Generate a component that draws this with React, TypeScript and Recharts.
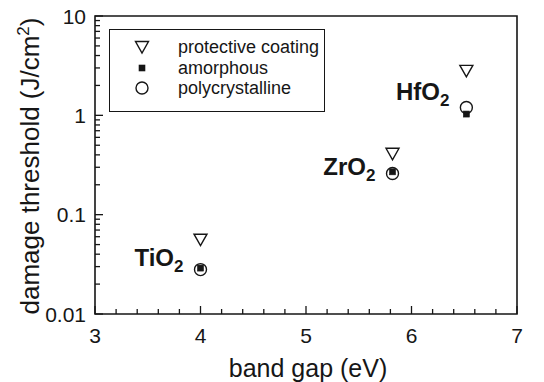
import React from "react";
import { Label, Legend, ReferenceArea, Scatter, ScatterChart, XAxis, YAxis } from "recharts";

const FONT = '"Liberation Sans", Arial, Helvetica, sans-serif';
const INK = "#161616";

const MATERIALS = ["TiO", "ZrO", "HfO"];
const BAND_GAP = [4.0, 5.82, 6.52];
const PROTECTIVE_COATING = [0.056, 0.41, 2.8];
const AMORPHOUS = [0.029, 0.27, 1.03];
const POLYCRYSTALLINE = [0.028, 0.26, 1.2];

const SERIES_NAMES = ["protective coating", "amorphous", "polycrystalline"];

const X_TICKS = [
  3, 3.2, 3.4, 3.6, 3.8, 4, 4.2, 4.4, 4.6, 4.8, 5, 5.2, 5.4, 5.6, 5.8, 6, 6.2, 6.4, 6.6, 6.8, 7,
];
const X_MAJOR = [3, 4, 5, 6, 7];
const Y_TICKS = [
  0.01, 0.02, 0.03, 0.04, 0.05, 0.06, 0.07, 0.08, 0.09,
  0.1, 0.2, 0.3, 0.4, 0.5, 0.6, 0.7, 0.8, 0.9,
  1, 2, 3, 4, 5, 6, 7, 8, 9, 10,
];
const Y_MAJOR = [0.01, 0.1, 1, 10];

const toPoints = (vals: number[]) =>
  BAND_GAP.map((x, i) => ({ x, y: vals[i], name: MATERIALS[i] }));

// material labels sit between the triangle and the circle
const labelPoints = BAND_GAP.map((x, i) => ({
  x,
  y: Math.sqrt(PROTECTIVE_COATING[i] * POLYCRYSTALLINE[i]),
  name: MATERIALS[i],
}));

function Tri({ cx, cy }: { cx: number; cy: number }) {
  return (
    <path
      d={`M${cx - 6.5},${cy - 5.5} L${cx + 6.5},${cy - 5.5} L${cx},${cy + 6} Z`}
      fill="none"
      stroke={INK}
      strokeWidth={1.4}
    />
  );
}

function Sq({ cx, cy }: { cx: number; cy: number }) {
  return <rect x={cx - 3} y={cy - 3} width={6} height={6} fill={INK} stroke={INK} strokeWidth={0.6} />;
}

function Circ({ cx, cy }: { cx: number; cy: number }) {
  return <circle cx={cx} cy={cy} r={6} fill="none" stroke={INK} strokeWidth={1.4} />;
}

const ICONS: Record<string, any> = {
  "protective coating": Tri,
  amorphous: Sq,
  polycrystalline: Circ,
};

function MaterialLabel({ cx, cy, payload }: any) {
  return (
    <text
      x={cx - 17}
      y={cy + 11}
      textAnchor="end"
      fontFamily={FONT}
      fontWeight="bold"
      fontSize={24}
      fill={INK}
    >
      {payload.name}
      <tspan dy={6} fontSize={17}>
        2
      </tspan>
    </text>
  );
}

function XTick({ x, y, payload }: any) {
  const major = X_MAJOR.includes(payload.value);
  return (
    <g>
      <path d={`M${x},${y} V${y - (major ? 8 : 5)}`} stroke={INK} strokeWidth={1.3} fill="none" />
      {major && (
        <text x={x} y={y + 29} textAnchor="middle" fontSize={21} fontFamily={FONT} fill={INK}>
          {payload.value}
        </text>
      )}
    </g>
  );
}

function YTick({ x, y, payload }: any) {
  const major = Y_MAJOR.includes(payload.value);
  return (
    <g>
      <path d={`M${x},${y} H${x + (major ? 8 : 5)}`} stroke={INK} strokeWidth={1.3} fill="none" />
      {major && (
        <text x={x - 9} y={y + 7.5} textAnchor="end" fontSize={21} fontFamily={FONT} fill={INK}>
          {String(payload.value)}
        </text>
      )}
    </g>
  );
}

function LegendBox() {
  return (
    <div
      style={{
        position: "relative",
        width: 216,
        height: 83,
        boxSizing: "border-box",
        border: `1.5px solid ${INK}`,
        background: "#fff",
        fontFamily: FONT,
        fontSize: 18,
        color: INK,
      }}
    >
      {SERIES_NAMES.map((name, i) => {
        const Icon = ICONS[name];
        return (
          <div
            key={name}
            style={{ position: "absolute", left: 0, top: 6 + i * 20.5, height: 21, width: "100%" }}
          >
            <svg width={20} height={20} style={{ position: "absolute", left: 22, top: 1 }}>
              <Icon cx={10} cy={10} />
            </svg>
            <span style={{ position: "absolute", left: 68, top: 0, lineHeight: "22px", whiteSpace: "nowrap" }}>
              {name}
            </span>
          </div>
        );
      })}
    </div>
  );
}

export default function App() {
  return (
    <div style={{ position: "absolute", left: 0, top: 0, background: "#fff" }}>
      <ScatterChart
        width={544}
        height={382}
        margin={{ top: 16, right: 27, bottom: 6, left: 35 }}
        style={{ fontFamily: FONT }}
      >
        <ReferenceArea x1={3} x2={7} y1={0.01} y2={10} fill="none" stroke={INK} strokeWidth={1.6} />
        <XAxis
          type="number"
          dataKey="x"
          domain={[3, 7]}
          ticks={X_TICKS}
          interval={0}
          tick={<XTick />}
          tickSize={0}
          tickMargin={0}
          tickLine={false}
          axisLine={false}
          height={62}
        >
          <Label
            content={() => (
              <text x={308} y={377} textAnchor="middle" fontSize={25} fontFamily={FONT} fill={INK}>
                band gap (eV)
              </text>
            )}
          />
        </XAxis>
        <YAxis
          type="number"
          dataKey="y"
          scale="log"
          domain={[0.01, 10]}
          ticks={Y_TICKS}
          interval={0}
          tick={<YTick />}
          tickSize={0}
          tickMargin={0}
          tickLine={false}
          axisLine={false}
          width={60}
          allowDataOverflow
        >
          <Label
            content={() => (
              <text
                x={39}
                y={166}
                transform="rotate(-90, 39, 166)"
                textAnchor="middle"
                fontSize={26}
                fontFamily={FONT}
                fill={INK}
              >
                damage threshold (J/cm
                <tspan dy={-10} fontSize={17}>
                  2
                </tspan>
                <tspan dy={10}>)</tspan>
              </text>
            )}
          />
        </YAxis>
        <Legend
          layout="vertical"
          align="center"
          verticalAlign="middle"
          wrapperStyle={{ left: 109, top: 29, width: 216 }}
          content={<LegendBox />}
        />
        <Scatter
          name="protective coating"
          data={toPoints(PROTECTIVE_COATING)}
          shape={(p: any) => <Tri cx={p.cx} cy={p.cy} />}
          isAnimationActive={false}
        />
        <Scatter
          name="amorphous"
          data={toPoints(AMORPHOUS)}
          shape={(p: any) => <Sq cx={p.cx} cy={p.cy} />}
          isAnimationActive={false}
        />
        <Scatter
          name="polycrystalline"
          data={toPoints(POLYCRYSTALLINE)}
          shape={(p: any) => <Circ cx={p.cx} cy={p.cy} />}
          isAnimationActive={false}
        />
        <Scatter
          name="labels"
          data={labelPoints}
          legendType="none"
          shape={(p: any) => <MaterialLabel {...p} />}
          isAnimationActive={false}
        />
      </ScatterChart>
    </div>
  );
}
